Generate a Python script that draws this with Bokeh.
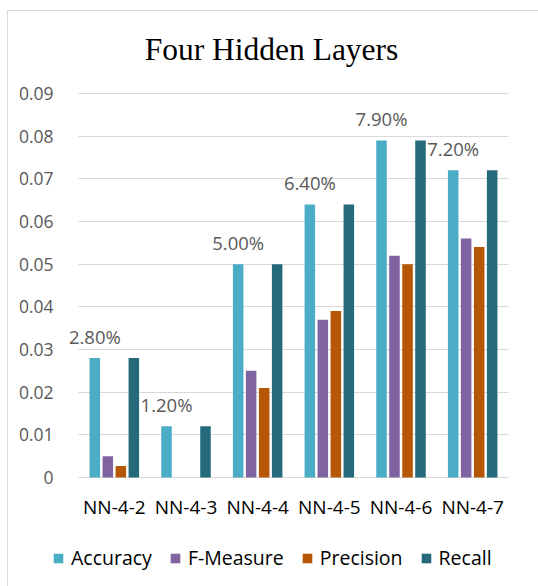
from bokeh.plotting import figure
from bokeh.models import (Range1d, ColumnDataSource, FixedTicker,
                          PrintfTickFormatter, Legend, LegendItem)
from bokeh.transform import dodge
from bokeh.core.properties import value
from bokeh.embed import file_html
from bokeh.resources import INLINE

title_text = "Four Hidden Layers"
categories = ["NN-4-2", "NN-4-3", "NN-4-4", "NN-4-5", "NN-4-6", "NN-4-7"]
accuracy = [0.028, 0.012, 0.050, 0.064, 0.079, 0.072]
f_measure = [0.005, 0.0, 0.025, 0.037, 0.052, 0.056]
precision = [0.0027, 0.0, 0.021, 0.039, 0.050, 0.054]
recall = [0.028, 0.012, 0.050, 0.064, 0.079, 0.072]
series_names = ["Accuracy", "F-Measure", "Precision", "Recall"]
series_colors = ["#4BACC6", "#8064A2", "#B65708", "#246A7B"]
y_ticks = [0.0, 0.01, 0.02, 0.03, 0.04, 0.05, 0.06, 0.07, 0.08, 0.09]

n = len(categories)
xi = list(range(n))

source = ColumnDataSource(dict(
    xi=xi,
    Accuracy=accuracy,
    FMeasure=f_measure,
    Precision=precision,
    Recall=recall,
    label=["%.2f%%" % (v * 100) for v in accuracy],
))

# layout constants (pixels)
W, H = 531, 576
GRID_TOP = 82                 # top gridline from figure top
cat_px = 430.0 / n            # width of one category in pixels
plot_left_px = 70.0           # left edge of first category from figure left
ymax = 0.09
px_per_unit = 384.0 / ymax    # pixels per y unit

x_start = -0.5 - plot_left_px / cat_px
x_end = x_start + W / cat_px
y_end = ymax + GRID_TOP / px_per_unit
y_start = ymax - (H - GRID_TOP) / px_per_unit

p = figure(
    x_range=Range1d(x_start, x_end),
    y_range=Range1d(y_start, y_end),
    width=W, height=H,
    output_backend="svg", toolbar_location=None,
    min_border_left=0, min_border_right=0,
    min_border_top=0, min_border_bottom=0,
)
p.margin = (10, 0, 0, 7)
p.styles = {"border-top": "1px solid #D9D9D9", "border-left": "1px solid #D9D9D9"}

p.outline_line_color = None
p.background_fill_color = "white"
p.border_fill_color = "white"

p.xgrid.grid_line_color = None
p.ygrid.grid_line_color = "#D9D9D9"
p.ygrid.grid_line_width = 1
try:
    p.ygrid.cross_bounds = (-0.5, n - 0.5)
except Exception:
    p.ygrid.grid_line_color = None
    p.segment(x0=-0.5, x1=n - 0.5, y0=y_ticks, y1=y_ticks,
              line_color="#D9D9D9", line_width=1, level="underlay")

p.yaxis.fixed_location = -0.5
p.yaxis.ticker = FixedTicker(ticks=y_ticks)
p.yaxis.formatter = PrintfTickFormatter(format="%.2f")
p.yaxis.major_label_overrides = {0: "0"}
p.yaxis.axis_line_color = None
p.yaxis.major_tick_line_color = None
p.yaxis.minor_tick_line_color = None
p.yaxis.major_label_text_font = "Open Sans"
p.yaxis.major_label_text_font_size = "17.5px"
p.yaxis.major_label_text_color = "#595959"
p.yaxis.major_label_standoff = 19

p.xaxis.fixed_location = 0
p.xaxis.ticker = FixedTicker(ticks=xi)
p.xaxis.major_label_overrides = {i: c for i, c in zip(xi, categories)}
p.xaxis.axis_line_color = None
p.xaxis.major_tick_line_color = None
p.xaxis.minor_tick_line_color = None
p.xaxis.major_label_text_font = "Open Sans"
p.xaxis.major_label_text_font_size = "19px"
p.xaxis.major_label_text_color = "#000000"
p.xaxis.major_label_standoff = 10

fields = ["Accuracy", "FMeasure", "Precision", "Recall"]
offsets = [-0.272, -0.091, 0.091, 0.272]
items = []
for f, off, name, col in zip(fields, offsets, series_names, series_colors):
    r = p.vbar(x=dodge("xi", off), top=f, width=0.147,
               source=source, fill_color=col, line_color=None)
    items.append(LegendItem(label=name, renderers=[r]))

p.text(x=dodge("xi", offsets[0]), y="Accuracy", text="label",
       source=source, y_offset=-22, text_align="center", text_baseline="middle",
       text_font=value("Open Sans"), text_font_size="18.5px", text_color="#595959")

# chart title (centred at figure x 263, vertically placed near the top)
title_x = x_start + 263.0 / cat_px
title_y = y_end - 38.0 / px_per_unit
p.text(x=[title_x], y=[title_y], text=[title_text], text_align="center",
       text_baseline="alphabetic", text_font=value("Liberation Serif"),
       text_font_size="31.5px", text_color="#000000")

legend = Legend(items=items, orientation="horizontal", location=(44, 16))
legend.glyph_width = 12
legend.glyph_height = 12
legend.label_standoff = 7
legend.spacing = 17
legend.padding = 0
legend.margin = 0
legend.border_line_color = None
legend.background_fill_alpha = 0
legend.label_text_font = "Open Sans"
legend.label_text_font_size = "19.5px"
legend.label_text_color = "#000000"
p.add_layout(legend, "center")

open("out.html", "w").write(file_html(p, INLINE))
